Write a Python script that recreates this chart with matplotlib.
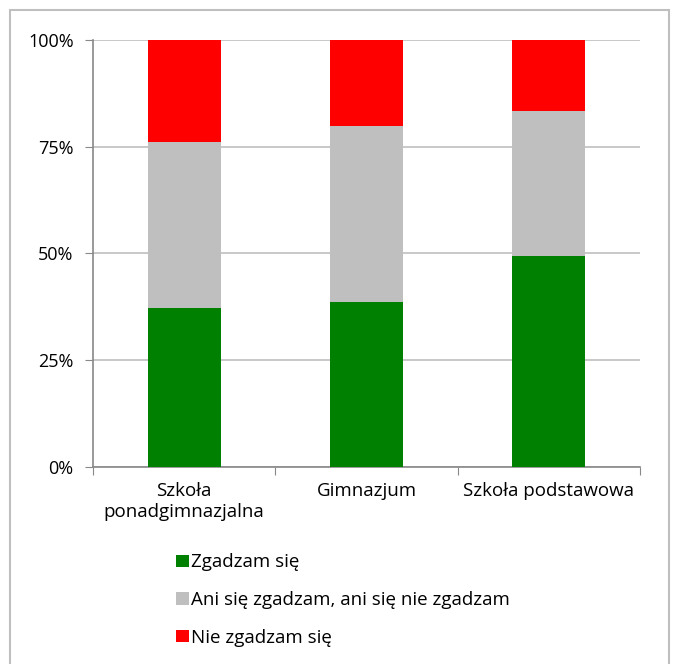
import matplotlib.pyplot as plt
import numpy as np
from matplotlib.patches import Rectangle

categories = ["Szkoła\nponadgimnazjalna", "Gimnazjum", "Szkoła podstawowa"]
zgadzam = [37.2, 38.6, 49.4]
ani = [38.9, 41.3, 34.0]
nie = [23.9, 20.1, 16.6]
series_names = ["Zgadzam się", "Ani się zgadzam, ani się nie zgadzam", "Nie zgadzam się"]
colors = ["#008000", "#BFBFBF", "#FF0000"]

plt.rcParams['font.family'] = ['Open Sans', 'DejaVu Sans']

fig = plt.figure(figsize=(6.73, 6.64), dpi=100)
# outer frame
fig.patches.append(Rectangle((10 / 673, -0.01), 659 / 673, 1 - 10 / 664 + 0.01,
                             transform=fig.transFigure, fill=False,
                             edgecolor="#BFBFBF", linewidth=1.5))

ax = fig.add_axes([93 / 673, 1 - 467 / 664, 547 / 673, 427 / 664])

x = np.arange(len(categories))
bottom = np.zeros(len(categories))
handles = []
for vals, name, c in zip([zgadzam, ani, nie], series_names, colors):
    b = ax.bar(x, vals, 0.4, bottom=bottom, color=c, label=name, zorder=3)
    handles.append(b)
    bottom += np.array(vals)

ax.set_xlim(-0.5, 2.5)
ax.set_ylim(0, 100)
ax.set_yticks([0, 25, 50, 75, 100])
ax.set_yticklabels(["0%", "25%", "50%", "75%", "100%"])
ax.yaxis.grid(True, color="#BFBFBF", linewidth=1.2, zorder=0)
ax.set_xticks([-0.5, 0.5, 1.5, 2.5])
ax.set_xticklabels([])
ax.set_xticks(x, minor=True)
ax.set_xticklabels(categories, minor=True, linespacing=1.2)
ax.tick_params(which="both", labelsize=13.5)
ax.tick_params(axis="y", labelsize=13)
ax.tick_params(axis="x", which="minor", length=0, pad=11)
ax.tick_params(axis="x", which="major", length=6, color="#888888")
ax.tick_params(axis="y", length=6, color="#888888", pad=8)
for s in ["top", "right"]:
    ax.spines[s].set_visible(False)
for s in ["left", "bottom"]:
    ax.spines[s].set_color("#888888")
    ax.spines[s].set_linewidth(1.2)

fig.legend(handles=handles, labels=series_names, loc="upper left",
           bbox_to_anchor=(167 / 673, 1 - 544 / 664), frameon=False,
           fontsize=13.5, handlelength=0.65, handleheight=0.65, handletextpad=0.12,
           labelspacing=1.05, borderpad=0)

fig.savefig("out.png", dpi=100)
